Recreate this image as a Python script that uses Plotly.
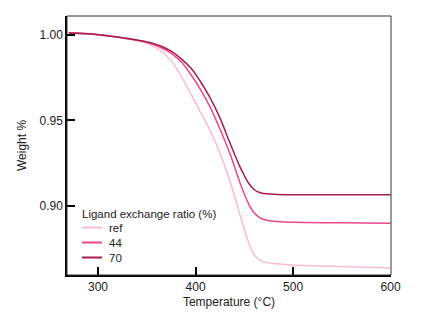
import plotly.graph_objects as go

# Temperature (°C) and weight fraction for each sample
temp = [270, 290, 310, 330, 345, 355, 365, 375, 385, 395, 405, 415, 425, 435, 445, 450, 455, 460, 465, 470, 480, 500, 550, 600]
w_ref = [1.0015, 1.0009, 0.9995, 0.9976, 0.9960, 0.9940, 0.9905, 0.9850, 0.9762, 0.9657, 0.9550, 0.9440, 0.9310, 0.9150, 0.8960, 0.8862, 0.8777, 0.8715, 0.8687, 0.8673, 0.8663, 0.8655, 0.8645, 0.8637]
w_44 = [1.0013, 1.0007, 0.9995, 0.9980, 0.9963, 0.9948, 0.9925, 0.9893, 0.9845, 0.9770, 0.9682, 0.9578, 0.9450, 0.9310, 0.9145, 0.9070, 0.9005, 0.8960, 0.8935, 0.8921, 0.8910, 0.8904, 0.8901, 0.8898]
w_70 = [1.0012, 1.0007, 0.9995, 0.9980, 0.9966, 0.9953, 0.9934, 0.9905, 0.9862, 0.9808, 0.9728, 0.9632, 0.9515, 0.9372, 0.9236, 0.9178, 0.9128, 0.9096, 0.9080, 0.9073, 0.9069, 0.9066, 0.9066, 0.9066]

series_names = ["ref", "44", "70"]
series_colors = ["#f7bcd2", "#e8478b", "#a81c52"]
legend_title = "Ligand exchange ratio (%)"

x_ticks = [300, 400, 500, 600]
y_ticks = [0.90, 0.95, 1.00]

fig = go.Figure()
for name, ys, col in zip(series_names, [w_ref, w_44, w_70], series_colors):
    fig.add_trace(go.Scatter(x=temp, y=ys, mode="lines", name=name, showlegend=False,
                             line=dict(color=col, width=1.5, shape="spline", smoothing=1.0)))

# plot area in pixels: x 67..391, y 16..275
def px(xp):
    return (xp - 67) / 324.0

def py(yp):
    return (275 - yp) / 259.0

font_family = "Liberation Sans, Arial, sans-serif"
annotations = [dict(text=legend_title, xref="paper", yref="paper", x=px(80), y=py(213.5),
                    xanchor="left", yanchor="middle", showarrow=False,
                    font=dict(size=11.5, color="#222", family=font_family))]
shapes = [dict(type="rect", xref="paper", yref="paper", x0=0, x1=1, y0=0, y1=1,
               line=dict(color="#333", width=1), layer="above")]
for name, col, ypix in zip(series_names, series_colors, [227.5, 242.5, 257.5]):
    shapes.append(dict(type="line", xref="paper", yref="paper", x0=px(82), x1=px(102),
                       y0=py(ypix), y1=py(ypix), line=dict(color=col, width=2)))
    annotations.append(dict(text=name, xref="paper", yref="paper", x=px(106.5), y=py(ypix),
                            xanchor="left", yanchor="middle", showarrow=False,
                            font=dict(size=11.5, color="#222", family=font_family)))

fig.update_layout(
    width=422, height=328,
    margin=dict(l=67, r=31, t=16, b=53),
    paper_bgcolor="white", plot_bgcolor="white",
    font=dict(family=font_family, size=12, color="#222"),
    showlegend=False,
    xaxis=dict(
        range=[268.2, 600.4], tickvals=x_ticks, ticktext=[str(t) for t in x_ticks],
        ticks="inside", ticklen=8, tickwidth=1.5, tickcolor="black",
        showline=True, linecolor="black", linewidth=1.5, mirror=False,
        showgrid=False, zeroline=False,
        title=dict(text="Temperature (°C)", font=dict(size=12), standoff=4),
        tickfont=dict(size=12),
    ),
    yaxis=dict(
        range=[0.8596, 1.0111], tickvals=y_ticks, ticktext=["%.2f" % v for v in y_ticks],
        ticks="inside", ticklen=8, tickwidth=1.5, tickcolor="black",
        showline=True, linecolor="black", linewidth=1.5, mirror=False,
        showgrid=False, zeroline=False,
        title=dict(text="Weight %", font=dict(size=12), standoff=10),
        tickfont=dict(size=12),
    ),
    shapes=shapes,
    annotations=annotations,
)

fig.write_html("out.html")
